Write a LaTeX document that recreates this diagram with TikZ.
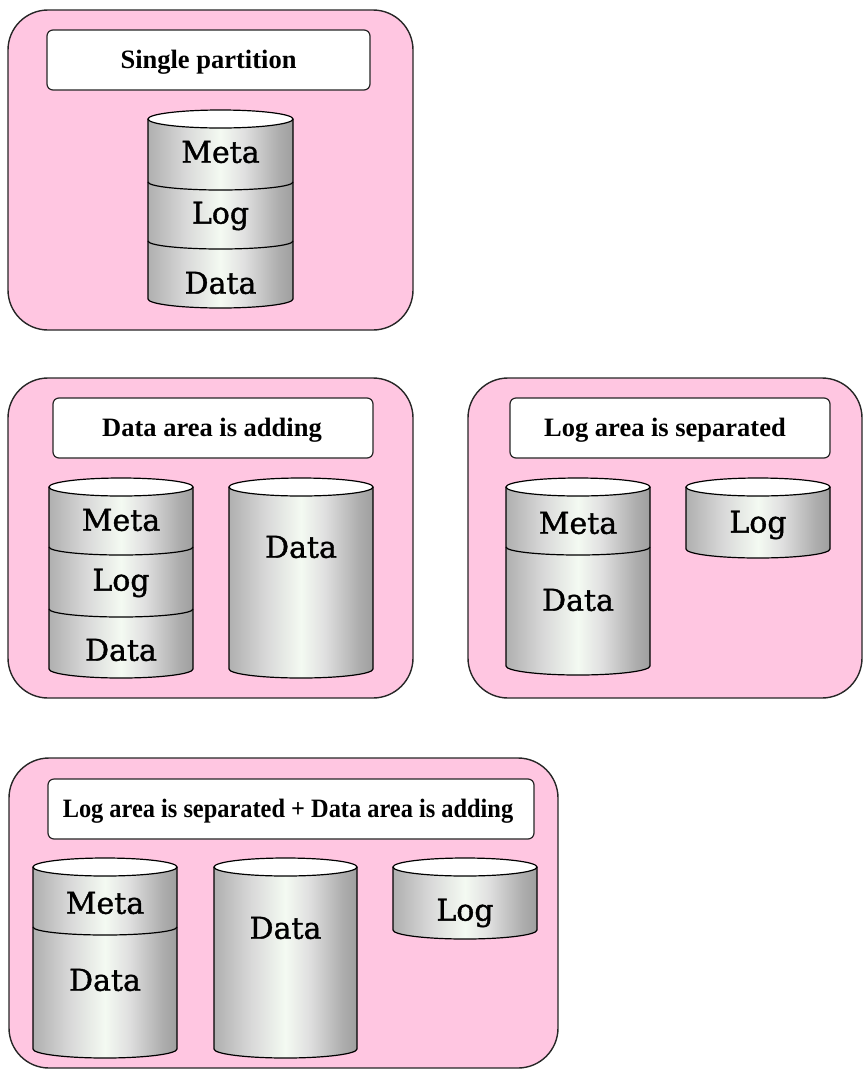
\documentclass[tikz,border=0pt]{standalone}
\usepackage{fontspec}
\setmainfont{Liberation Serif}
\newfontfamily\cylfont[FakeBold=1.2]{DejaVu Serif}
\newfontfamily\titlefont{Liberation Serif}
\definecolor{panelpink}{RGB}{255,198,225}
\definecolor{cylgreen}{RGB}{244,250,242}
\pgfdeclarehorizontalshading{cylshade}{100bp}{%
  color(0bp)=(black!58);
  color(6bp)=(black!52);
  color(14bp)=(black!42);
  color(26bp)=(black!30);
  color(38bp)=(black!15);
  color(50bp)=(cylgreen);
  color(58bp)=(black!12);
  color(70bp)=(black!32);
  color(82bp)=(black!46);
  color(92bp)=(black!56);
  color(100bp)=(black!50)}
\tikzset{
  panel/.style={draw=black!85, line width=1.4pt, fill=panelpink, rounded corners=40pt},
  titlebox/.style={draw=black!85, line width=1.2pt, fill=white, rounded corners=6pt, inner sep=0pt},
  titletext/.style={font=\titlefont\fontsize{26.5}{28}\selectfont\bfseries},
  cylline/.style={draw=black, line width=1.2pt},
  cyllabel/.style={font=\cylfont\fontsize{30}{32}\selectfont, inner sep=0pt}
}
% #1 x left, #2 x right, #3 top (px), #4 bottom (px)
\newcommand\drawcyl[4]{%
  \pgfmathsetmacro\cylcx{(#1+#2)/2}%
  \pgfmathsetmacro\cylrx{(#2-#1)/2}%
  \pgfmathsetmacro\cylyt{-(#3)-9}%
  \pgfmathsetmacro\cylyb{-(#4)+9}%
  \shade[shading=cylshade] (#1,\cylyt) -- (#1,\cylyb) arc[start angle=180,end angle=360,x radius=\cylrx,y radius=9] -- (#2,\cylyt) -- cycle;
  \draw[cylline] (#1,\cylyt) -- (#1,\cylyb) arc[start angle=180,end angle=360,x radius=\cylrx,y radius=9] -- (#2,\cylyt);
  \draw[cylline, fill=white] (\cylcx,\cylyt) ellipse[x radius=\cylrx, y radius=9];
}
% separator: #1 x left, #2 x right, #3 lowest y of arc (px)
\newcommand\cylsep[3]{%
  \pgfmathsetmacro\cylrx{(#2-#1)/2}%
  \pgfmathsetmacro\cylys{-(#3)+8}%
  \draw[cylline] (#1,\cylys) arc[start angle=180,end angle=360,x radius=\cylrx,y radius=8];
}
\begin{document}
\begin{tikzpicture}[x=1pt,y=1pt]
\useasboundingbox (0,0) rectangle (865,-1072);

% ---------- Panel 1 ----------
\draw[panel] (8,-10) rectangle (413,-330);
\node[titlebox, minimum width=323pt, minimum height=60pt] (t1) at (208.5,-60) {};
\node[titletext] (t1text) at (208.5,-62) {Single partition};
\drawcyl{148}{293}{110}{308}
\cylsep{148}{293}{190}
\cylsep{148}{293}{249}
\node[cyllabel] (p1meta) at (220.5,-152) {Meta};
\node[cyllabel] (p1log) at (220.5,-216) {Log};
\node[cyllabel] (p1data) at (220.5,-283) {Data};

% ---------- Panel 2 ----------
\draw[panel] (8,-378) rectangle (413,-698);
\node[titlebox, minimum width=320pt, minimum height=60pt] (t2) at (213,-428) {};
\node[titletext] (t2text) at (212,-430) {Data area is adding};
\drawcyl{49}{193}{478}{678}
\cylsep{49}{193}{555}
\cylsep{49}{193}{617}
\node[cyllabel] (p2meta) at (121,-520) {Meta};
\node[cyllabel] (p2log) at (121,-583) {Log};
\node[cyllabel] (p2data) at (121,-650) {Data};
\drawcyl{229}{373}{478}{678}
\node[cyllabel] (p2data2) at (301,-547) {Data};

% ---------- Panel 3 ----------
\draw[panel] (468,-378) rectangle (862,-698);
\node[titlebox, minimum width=320pt, minimum height=60pt] (t3) at (670,-428) {};
\node[titletext] (t3text) at (665,-430) {Log area is separated};
\drawcyl{506}{650}{478}{675}
\cylsep{506}{650}{555}
\node[cyllabel] (p3meta) at (578,-523) {Meta};
\node[cyllabel] (p3data) at (578,-600) {Data};
\drawcyl{686}{830}{478}{558}
\node[cyllabel] (p3log) at (758,-525) {Log};

% ---------- Panel 4 ----------
\draw[panel] (9,-758) rectangle (558,-1068);
\node[titlebox, minimum width=486pt, minimum height=60pt] (t4) at (291,-809) {};
\node[titletext] (t4text) at (288,-811) {\scalebox{0.92}[1]{Log area is separated + Data area is adding}};
\drawcyl{33}{177}{858}{1058}
\cylsep{33}{177}{935}
\node[cyllabel] (p4meta) at (105,-903) {Meta};
\node[cyllabel] (p4data) at (105,-980) {Data};
\drawcyl{214}{357}{858}{1058}
\node[cyllabel] (p4data2) at (285.5,-928) {Data};
\drawcyl{393}{537}{858}{939}
\node[cyllabel] (p4log) at (465,-913) {Log};
\end{tikzpicture}
\end{document}
